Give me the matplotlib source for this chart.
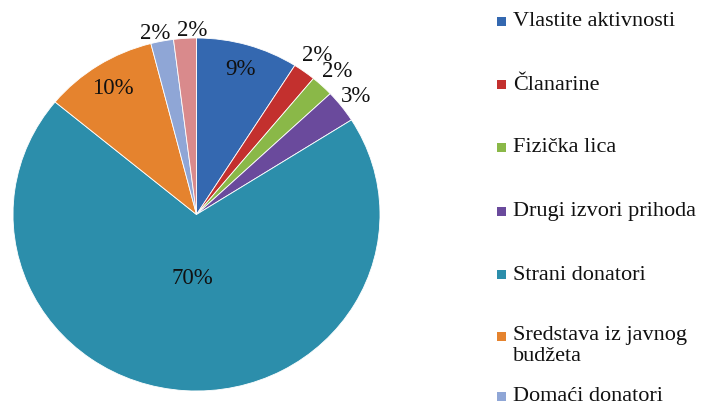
import numpy as np
import matplotlib
matplotlib.use("Agg")
import matplotlib.pyplot as plt
from matplotlib.patches import Rectangle

categories = ["Vlastite aktivnosti", "Članarine", "Fizička lica", "Drugi izvori prihoda",
              "Strani donatori", "Sredstava iz javnog\nbudžeta", "Domaći donatori", "Ostalo"]
values = [9, 2, 2, 3, 70, 10, 2, 2]
pct_labels = ["9%", "2%", "2%", "3%", "70%", "10%", "2%", "2%"]
legend_count = 7  # the 8th legend entry is cut off in the source image

colors = ["#3468B0", "#C3302E", "#8AB848", "#6A4A9C", "#2C8EAB", "#E5832E", "#8FA6D6", "#D98A8C"]
label_r = [0.86, 1.12, 1.12, 1.10, 0.36, 0.85, 1.05, 1.05]
label_dx = [0.0, 0.0, 0.0, 0.0, 0.0, 0.0, -0.03, 0.045]

W, H = 702, 406
fig = plt.figure(figsize=(W / 100, H / 100), dpi=100)
plt.rcParams['font.family'] = ['Liberation Serif', 'DejaVu Serif']

# pie axes: center (196.5, 215.5), rx 183.5, ry 176.5 in pixels
cx, cy, rx, ry = 196.5, 215.5, 183.5, 176.5
ax = fig.add_axes([(cx - rx) / W, (H - cy - ry) / H, 2 * rx / W, 2 * ry / H])
wedges, _ = ax.pie(values, colors=colors, startangle=90, counterclock=False,
                   radius=1.0, wedgeprops=dict(linewidth=0.6, edgecolor="white"))
ax.set_aspect('auto')
ax.set_xlim(-1, 1)
ax.set_ylim(-1, 1)
ax.axis('off')

for w, lab, r, dx in zip(wedges, pct_labels, label_r, label_dx):
    ang = np.deg2rad((w.theta1 + w.theta2) / 2)
    ax.text(r * np.cos(ang) + dx, r * np.sin(ang), lab, ha='center', va='center',
            fontsize=16.5, color='#111111')

# legend
legend_y = [22, 85, 148, 212, 275, 337, 397]
for i in range(legend_count):
    y = legend_y[i]
    fig.patches.append(Rectangle((497 / W, (H - y - 4.5) / H), 9 / W, 9 / H,
                                 transform=fig.transFigure, facecolor=colors[i],
                                 edgecolor='none'))
    if '\n' in categories[i]:
        fig.text(513 / W, (H - y + 11) / H, categories[i], ha='left', va='top',
                 fontsize=16, color='#111111', linespacing=1.15)
    else:
        fig.text(513 / W, (H - y) / H, categories[i], ha='left', va='center',
                 fontsize=16, color='#111111')

fig.savefig("out.png", dpi=100)
